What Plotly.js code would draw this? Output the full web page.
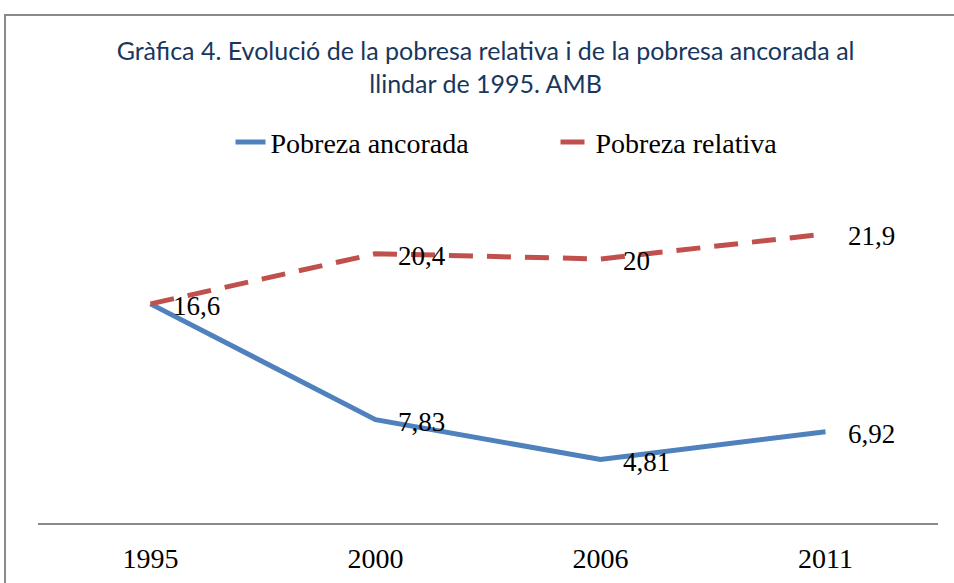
<!DOCTYPE html>
<html>
<head>
<meta charset="utf-8">
<script src="https://cdn.plot.ly/plotly-3.0.1.min.js"></script>
<style>
  html, body { margin:0; padding:0; background:#fff; overflow:hidden; }
  #frame { position:absolute; left:4px; top:14px; width:1200px; height:800px;
           border-left:2px solid #8a8a8a; border-top:2px solid #8a8a8a; }
  #chart { position:absolute; left:0; top:0; width:954px; height:583px; }
</style>
</head>
<body>
<div id="frame"></div>
<div id="chart"></div>
<script>
const years = ['1995', '2000', '2006', '2011'];
const ancorada = [16.6, 7.83, 4.81, 6.92];
const relativa = [16.6, 20.4, 20, 21.9];
const seriesNames = ['Pobreza ancorada', 'Pobreza relativa'];
const chartTitle = 'Gràfica 4. Evolució de la pobresa relativa i de la pobresa ancorada al<br>llindar de 1995. AMB';

const serif = '"Liberation Serif", "Times New Roman", serif';
const fmt = v => String(v).replace('.', ',');

// value labels sit just to the right of each point, like the original
const labelsFor = vals => vals.map((v, i) => ({
  xref: 'x', yref: 'y', x: i, y: v, text: fmt(v),
  xanchor: 'left', yanchor: 'middle', xshift: 20, yshift: -2,
  showarrow: false, font: {family: serif, size: 27, color: '#000'}
}));

const traces = [
  {x: years, y: ancorada, name: seriesNames[0], type: 'scatter', mode: 'lines',
   line: {color: '#4f81bd', width: 5}},
  {x: years, y: relativa, name: seriesNames[1], type: 'scatter', mode: 'lines',
   line: {color: '#c0504d', width: 5, dash: '24px,14px'}}
];

const layout = {
  width: 954, height: 583,
  paper_bgcolor: 'rgba(0,0,0,0)', plot_bgcolor: 'rgba(0,0,0,0)',
  margin: {l: 38, r: 16, t: 193, b: 60},
  title: {text: chartTitle, x: 0.509, xanchor: 'center', y: 0.8966, yanchor: 'top',
          font: {family: 'Lato, "Open Sans", sans-serif', size: 25, color: '#17375e'}},
  showlegend: true,
  legend: {orientation: 'h', x: 0.575, xanchor: 'center', xref: 'paper',
           y: 0.756, yref: 'container', yanchor: 'middle',
           entrywidth: 280, entrywidthmode: 'pixels',
           font: {family: serif, size: 28, color: '#000'}, traceorder: 'normal'},
  xaxis: {type: 'category', range: [-0.5, 3.5], showgrid: false, zeroline: false,
          showline: true, linecolor: '#8a8a8a', linewidth: 2, ticks: '',
          ticklabelstandoff: 9, tickfont: {family: serif, size: 28, color: '#000'}},
  yaxis: {range: [0, 25], visible: false, showgrid: false, zeroline: false},
  annotations: [...labelsFor(ancorada).slice(1), ...labelsFor(relativa)]
};

Plotly.newPlot('chart', traces, layout, {displayModeBar: false, staticPlot: true});
</script>
</body>
</html>
